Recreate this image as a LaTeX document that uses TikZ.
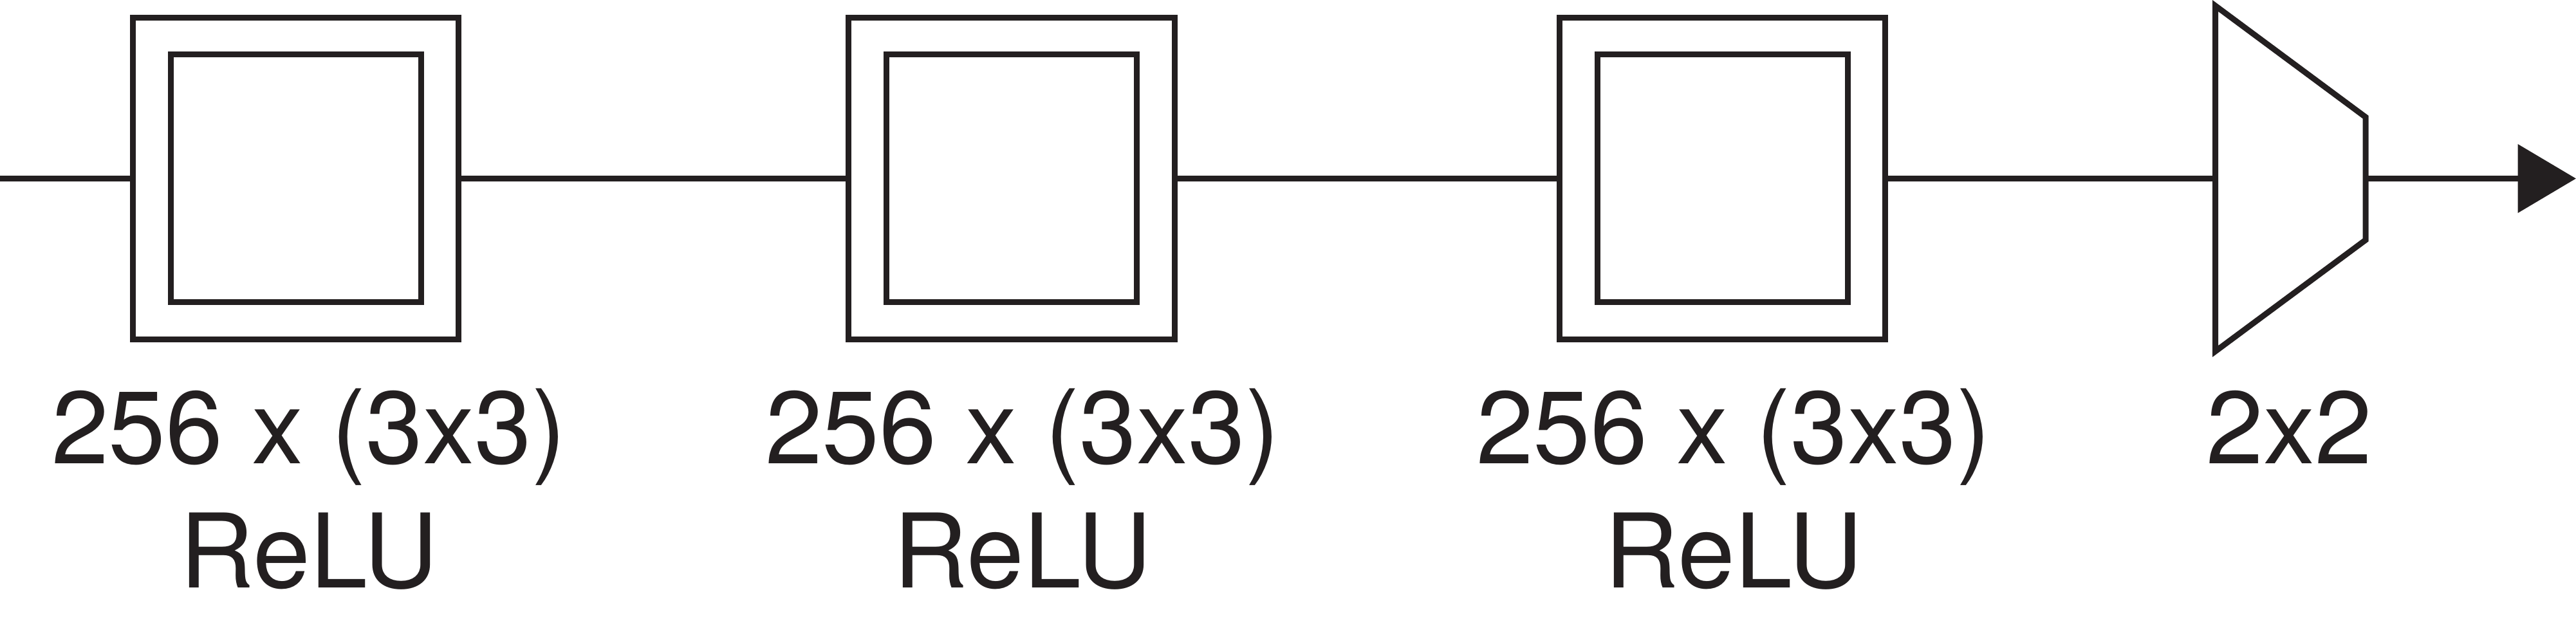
\documentclass[tikz,border=0pt]{standalone}
\usepackage{fontspec}
\setmainfont{TeX Gyre Heros}
\usetikzlibrary{arrows.meta}
\definecolor{ink}{HTML}{231F20}
\begin{document}
\begin{tikzpicture}[x=1cm,y=1cm,
  outerbox/.style={draw=ink, line width=0.09cm, rectangle, minimum width=5.065cm, minimum height=4.996cm, inner sep=0pt, outer sep=0pt},
  innerbox/.style={draw=ink, line width=0.09cm, rectangle, minimum width=3.89cm, minimum height=3.85cm, inner sep=0pt, outer sep=0pt},
  lab/.style={anchor=base, inner sep=0pt, outer sep=0pt, text=ink, font=\fontsize{45.5}{55}\selectfont},
  conn/.style={draw=ink, line width=0.09cm},
  poolshape/.style={draw=ink, line width=0.09cm, line join=miter}]
\useasboundingbox (0,0) rectangle (40.03,-9.9);

% convolution blocks
\node[outerbox] (c1) at (4.595,-2.775) {};
\node[innerbox] (c1i) at (4.595,-2.77) {};
\node[outerbox] (c2) at (15.719,-2.775) {};
\node[innerbox] (c2i) at (15.719,-2.77) {};
\node[outerbox] (c3) at (26.765,-2.775) {};
\node[innerbox] (c3i) at (26.765,-2.77) {};

% pooling trapezoid
\coordinate (ptl) at (34.426,-0.09);
\coordinate (ptr) at (36.76,-1.82);
\coordinate (pbr) at (36.76,-3.73);
\coordinate (pbl) at (34.426,-5.46);
\draw[poolshape] (ptl) -- (ptr) -- (pbr) -- (pbl) -- cycle;
\coordinate (pin) at (34.426,-2.775);
\coordinate (pout) at (36.76,-2.775);

% free ends
\coordinate (start) at (0,-2.775);
\coordinate (finish) at (40.03,-2.775);

% connectors
\draw[conn] (start) -- (c1.west);
\draw[conn] (c1.east) -- (c2.west);
\draw[conn] (c2.east) -- (c3.west);
\draw[conn] (c3.east) -- (pin);
\draw[conn,-{Triangle[length=0.905cm,width=1.05cm]}] (pout) -- (finish);

% labels
\node[lab] (l1a) at (4.80,-7.20) {256 x (3x3)};
\node[lab] (l1b) at (4.80,-9.13) {ReLU};
\node[lab] (l2a) at (15.89,-7.20) {256 x (3x3)};
\node[lab] (l2b) at (15.89,-9.13) {ReLU};
\node[lab] (l3a) at (26.94,-7.20) {256 x (3x3)};
\node[lab] (l3b) at (26.94,-9.13) {ReLU};
\node[lab] (l4a) at (35.578,-7.20) {2x2};
\end{tikzpicture}
\end{document}
